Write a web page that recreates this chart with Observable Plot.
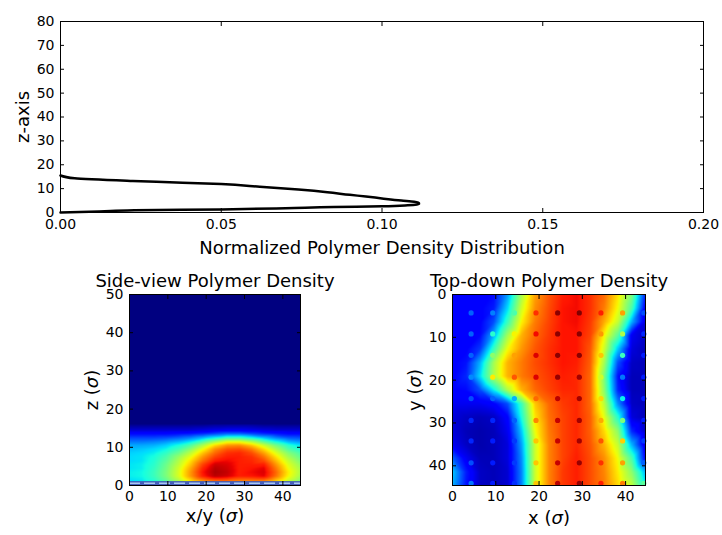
<!DOCTYPE html>
<html><head><meta charset="utf-8">
<script src="https://cdn.jsdelivr.net/npm/d3@7"></script>
<script src="https://cdn.jsdelivr.net/npm/@observablehq/plot@0.6"></script>
<style>
body{margin:0;background:#fff;}
#root{position:relative;width:722px;height:535px;font-family:"DejaVu Sans";}
#root > div{position:absolute;}
</style></head><body><div id="root"></div>
<script>
// ---------- top panel: density profile ----------
const zValues   = [0, 0.4, 0.9, 1.3, 1.8, 2.3, 2.6, 3.0, 3.5, 4.0, 4.5, 5.0, 5.9, 6.7, 7.4, 8.5, 9.6, 10.8, 11.9, 12.6, 13.2, 14.3, 15.5];
const densities = [0, 0.012, 0.023, 0.05, 0.07, 0.085, 0.1, 0.108, 0.1115, 0.1115, 0.11, 0.106, 0.1, 0.095, 0.09, 0.083, 0.074, 0.062, 0.05, 0.036, 0.0225, 0.0044, 0];
const topXTicks = [0, 0.05, 0.1, 0.15, 0.2];
const topYTicks = [0, 10, 20, 30, 40, 50, 60, 70, 80];

// ---------- side view: sample rows at heights sideZ (top to bottom), 15 columns spanning x 0..44.6 ----------
const sideZ = [16, 14.5, 13.5, 12.5, 11.5, 10.5, 9.5, 8.5, 7.5, 6.5, 5.5, 4.5, 3.5, 2.5, 1.0];
const sideRows = [
  [0.01,0.01,0.01,0.01,0.01,0.01,0.01,0.02,0.02,0.02,0.02,0.01,0.01,0.01,0.01],
  [0.07,0.07,0.07,0.07,0.07,0.07,0.08,0.09,0.1,0.1,0.09,0.08,0.07,0.07,0.07],
  [0.13,0.13,0.13,0.13,0.14,0.15,0.17,0.2,0.23,0.23,0.2,0.17,0.15,0.13,0.13],
  [0.19,0.19,0.19,0.2,0.22,0.25,0.3,0.36,0.42,0.42,0.37,0.31,0.25,0.21,0.2],
  [0.24,0.24,0.25,0.27,0.3,0.35,0.44,0.54,0.62,0.62,0.56,0.46,0.37,0.3,0.27],
  [0.29,0.29,0.3,0.33,0.38,0.45,0.56,0.68,0.75,0.76,0.7,0.6,0.49,0.4,0.35],
  [0.31,0.32,0.34,0.37,0.43,0.52,0.64,0.76,0.82,0.83,0.78,0.68,0.56,0.45,0.39],
  [0.33,0.34,0.36,0.41,0.48,0.58,0.7,0.8,0.86,0.87,0.83,0.74,0.62,0.51,0.44],
  [0.34,0.35,0.38,0.44,0.53,0.63,0.75,0.84,0.88,0.88,0.86,0.79,0.67,0.55,0.47],
  [0.34,0.35,0.39,0.46,0.56,0.67,0.79,0.88,0.9,0.88,0.87,0.83,0.71,0.59,0.5],
  [0.35,0.36,0.4,0.48,0.58,0.7,0.84,0.93,0.92,0.88,0.88,0.88,0.75,0.62,0.53],
  [0.35,0.36,0.41,0.49,0.6,0.73,0.87,0.95,0.93,0.88,0.89,0.91,0.78,0.64,0.55],
  [0.36,0.37,0.42,0.5,0.61,0.75,0.89,0.96,0.94,0.88,0.9,0.92,0.8,0.66,0.56],
  [0.36,0.37,0.42,0.5,0.61,0.75,0.88,0.95,0.93,0.88,0.89,0.91,0.79,0.65,0.55],
  [0.34,0.35,0.39,0.46,0.55,0.66,0.74,0.78,0.78,0.76,0.76,0.76,0.68,0.58,0.5]
];
const sideBackground = [0];
const wallTop = [1.0];
const wallZ = [0.6];
const sideXTicks = [0, 10, 20, 30, 40];
const sideYTicks = [0, 10, 20, 30, 40, 50];

// ---------- top-down: 15 rows (y 0 at top .. 44.6) x 15 columns (x 0 .. 44.6) ----------
const topRows = [
  [0.12,0.12,0.12,0.13,0.28,0.55,0.74,0.82,0.88,0.9,0.86,0.8,0.67,0.5,0.15],
  [0.12,0.12,0.12,0.15,0.34,0.6,0.76,0.83,0.89,0.9,0.86,0.78,0.64,0.44,0.1],
  [0.12,0.12,0.12,0.2,0.42,0.65,0.78,0.84,0.89,0.9,0.85,0.73,0.59,0.3,0.08],
  [0.12,0.12,0.13,0.3,0.55,0.72,0.8,0.85,0.89,0.89,0.84,0.65,0.46,0.1,0.06],
  [0.12,0.12,0.18,0.42,0.64,0.75,0.82,0.86,0.89,0.89,0.82,0.6,0.32,0.08,0.05],
  [0.12,0.14,0.3,0.55,0.72,0.78,0.83,0.86,0.89,0.88,0.81,0.55,0.2,0.06,0.05],
  [0.12,0.16,0.34,0.56,0.72,0.78,0.82,0.85,0.88,0.87,0.8,0.5,0.14,0.05,0.05],
  [0.12,0.13,0.2,0.36,0.56,0.72,0.8,0.84,0.87,0.87,0.8,0.52,0.16,0.05,0.05],
  [0.1,0.1,0.1,0.12,0.2,0.42,0.7,0.8,0.85,0.87,0.8,0.58,0.26,0.06,0.05],
  [0.08,0.06,0.05,0.06,0.12,0.38,0.67,0.79,0.84,0.87,0.81,0.63,0.4,0.08,0.05],
  [0.08,0.05,0.04,0.05,0.1,0.32,0.64,0.78,0.84,0.87,0.81,0.68,0.52,0.16,0.06],
  [0.1,0.06,0.04,0.05,0.08,0.28,0.6,0.77,0.84,0.87,0.82,0.72,0.59,0.3,0.08],
  [0.22,0.1,0.05,0.05,0.08,0.26,0.6,0.77,0.84,0.88,0.83,0.76,0.64,0.44,0.12],
  [0.32,0.15,0.06,0.05,0.07,0.25,0.6,0.77,0.85,0.88,0.83,0.77,0.66,0.52,0.3],
  [0.3,0.14,0.06,0.05,0.07,0.25,0.6,0.77,0.85,0.88,0.83,0.78,0.68,0.58,0.36]
];
const boxLength = 44.6;
const beadX = [4.3, 9.3, 14.3, 19.3, 24.3, 29.3, 34.3, 39.3, 44.2];
const beadY = [4.3, 9.2, 14.2, 19.3, 24.3, 29.4, 34.2, 39.3, 44.1];
const beadBump = 0.1;
const tdTicks = [0, 10, 20, 30, 40];

// ---------- styling helpers ----------
function seg(t, pts){
  for (let i = 1; i < pts.length; i++) {
    if (t <= pts[i][0]) { const [t0,v0] = pts[i-1], [t1,v1] = pts[i]; return v0 + (v1 - v0) * (t - t0) / (t1 - t0); }
  }
  return pts[pts.length-1][1];
}
function jet(t){
  t = Math.max(0, Math.min(1, t));
  const r = seg(t, [[0,0],[0.35,0],[0.66,1],[0.89,1],[1,0.5]]);
  const g = seg(t, [[0,0],[0.125,0],[0.375,1],[0.64,1],[0.91,0],[1,0]]);
  const b = seg(t, [[0,0.5],[0.11,1],[0.34,1],[0.65,0],[1,0]]);
  return `rgb(${Math.round(r*255)},${Math.round(g*255)},${Math.round(b*255)})`;
}
const FONT = "DejaVu Sans";
const style = {fontFamily: FONT, fontSize: "14px", color: "black", background: "white", overflow: "visible"};
const jetScale = {type: "linear", domain: [0, 1], interpolate: jet, clamp: true};
const LABEL = 18;

function frameAxes(xTicks, yTicks, xFmt, yFmt, pad){
  return [
    Plot.axisX(xTicks, {anchor: "bottom", tickSize: -4, tickPadding: pad.x, tickFormat: xFmt, label: null, fontSize: 14}),
    Plot.axisX(xTicks, {anchor: "top", tickSize: -4, tickFormat: () => "", label: null}),
    Plot.axisY(yTicks, {anchor: "left", tickSize: -4, tickPadding: pad.y, tickFormat: yFmt, label: null, fontSize: 14}),
    Plot.axisY(yTicks, {anchor: "right", tickSize: -4, tickFormat: () => "", label: null}),
    Plot.frame({stroke: "black", strokeWidth: 1})
  ];
}
function xLabel(text, dy){ return Plot.text([text], {frameAnchor: "bottom", dy, fontSize: LABEL, lineAnchor: "middle", textAnchor: "middle"}); }
function yLabel(text, dx){ return Plot.text([text], {frameAnchor: "left", dx, rotate: -90, fontSize: LABEL, lineAnchor: "middle", textAnchor: "middle"}); }
function title(text){ return Plot.text([text], {frameAnchor: "top", dy: -13, fontSize: LABEL, lineAnchor: "middle", textAnchor: "middle"}); }

// grid samples: positions of rows/columns + values → points for Plot's barycentric raster interpolation
function gridPoints(rows, ys, xs){
  return rows.flatMap((row, r) => row.map((v, c) => ({x: xs[c], y: ys[r], v})));
}
function evenly(n, L){ return Array.from({length: n}, (_, i) => i * L / (n - 1)); }

function place(svg, left, top){
  const d = document.createElement("div");
  d.style.left = left + "px"; d.style.top = top + "px";
  d.appendChild(svg);
  document.getElementById("root").appendChild(d);
  svg.querySelectorAll("text").forEach(t => {
    if (t.textContent.includes("σ")) t.innerHTML = t.textContent.replace("σ", '<tspan font-style="italic">σ</tspan>');
  });
}

// ---------- top panel ----------
const profile = zValues.map((z, i) => ({z, density: densities[i]}));
const topPlot = Plot.plot({
  width: 722, height: 262,
  marginLeft: 60, marginRight: 19, marginTop: 21, marginBottom: 50,
  style,
  x: {domain: [0, 0.2]},
  y: {domain: [0, 80]},
  marks: [
    Plot.line(profile, {x: "density", y: "z", stroke: "black", strokeWidth: 2.5, sort: "z", curve: "monotone-y", strokeLinejoin: "round"}),
    ...frameAxes(topXTicks, topYTicks, d3.format(".2f"), d3.format("d"), {x: 11, y: 10}),
    xLabel("Normalized Polymer Density Distribution", 36),
    yLabel("z-axis", -37)
  ]
});
place(topPlot, 0, 0);

// ---------- side view ----------
const sideXs = evenly(sideRows[0].length, boxLength);
const sidePts = gridPoints(sideRows, sideZ, sideXs);
const sidePlot = Plot.plot({
  width: 361, height: 275,
  marginLeft: 129, marginRight: 61, marginTop: 34, marginBottom: 50,
  style,
  x: {domain: [0, boxLength]},
  y: {domain: [0, 50]},
  color: jetScale,
  marks: [
    Plot.rect(sideBackground, {x1: 0, x2: boxLength, y1: 0, y2: 50, fill: d => d}),
    Plot.raster(sidePts, {x: "x", y: "y", fill: "v", interpolate: "barycentric", x1: 0, x2: boxLength, y1: d3.min(sideZ), y2: d3.max(sideZ)}),
    Plot.rect(wallTop, {x1: 0, x2: boxLength, y1: 0, y2: d => d, fill: "#4660bd"}),
    Plot.ruleY(wallZ, {x1: 0, x2: boxLength, stroke: "#a9c9f2", strokeWidth: 1.5, strokeDasharray: "11,4"}),
    ...frameAxes(sideXTicks, sideYTicks, d3.format("d"), d3.format("d"), {x: 10, y: 10}),
    title("Side-view Polymer Density"),
    xLabel("x/y (σ)", 31),
    yLabel("z (σ)", -37)
  ]
});
place(sidePlot, 0, 260);

// ---------- top-down ----------
const nC = topRows[0].length, nR = topRows.length;
const tdXs = evenly(nC, boxLength), tdYs = evenly(nR, boxLength);
const tdPts = gridPoints(topRows, tdYs, tdXs);
const beads = beadY.flatMap(y => beadX.map(x => {
  const c = Math.round(x / (boxLength / (nC - 1)));
  const r = Math.round(y / (boxLength / (nR - 1)));
  return {x, y, v: topRows[r][c] + beadBump};
}));
const tdPlot = Plot.plot({
  width: 361, height: 275,
  marginLeft: 91, marginRight: 77, marginTop: 34, marginBottom: 50,
  style,
  x: {domain: [0, boxLength]},
  y: {domain: [0, boxLength], reverse: true},
  color: jetScale,
  marks: [
    Plot.raster(tdPts, {x: "x", y: "y", fill: "v", interpolate: "barycentric", x1: 0, x2: boxLength, y1: 0, y2: boxLength}),
    Plot.dot(beads, {x: "x", y: "y", r: 2.6, fill: "v", stroke: null, ariaLabel: "beads"}),
    ...frameAxes(tdTicks, tdTicks, d3.format("d"), d3.format("d"), {x: 10, y: 10}),
    title("Top-down Polymer Density"),
    xLabel("x (σ)", 33),
    yLabel("y (σ)", -37)
  ]
});
(function addBlur(svg){
  const ns = "http://www.w3.org/2000/svg";
  const defs = document.createElementNS(ns, "defs");
  const f = document.createElementNS(ns, "filter");
  f.setAttribute("id", "beadBlur");
  f.setAttribute("x", "-50%"); f.setAttribute("y", "-50%"); f.setAttribute("width", "200%"); f.setAttribute("height", "200%");
  const gb = document.createElementNS(ns, "feGaussianBlur");
  gb.setAttribute("stdDeviation", "1.1");
  f.appendChild(gb); defs.appendChild(f); svg.insertBefore(defs, svg.firstChild);
  const g = svg.querySelector('g[aria-label="beads"]');
  if (g) g.setAttribute("filter", "url(#beadBlur)");
})(tdPlot);
place(tdPlot, 361, 260);
</script>
</body></html>
